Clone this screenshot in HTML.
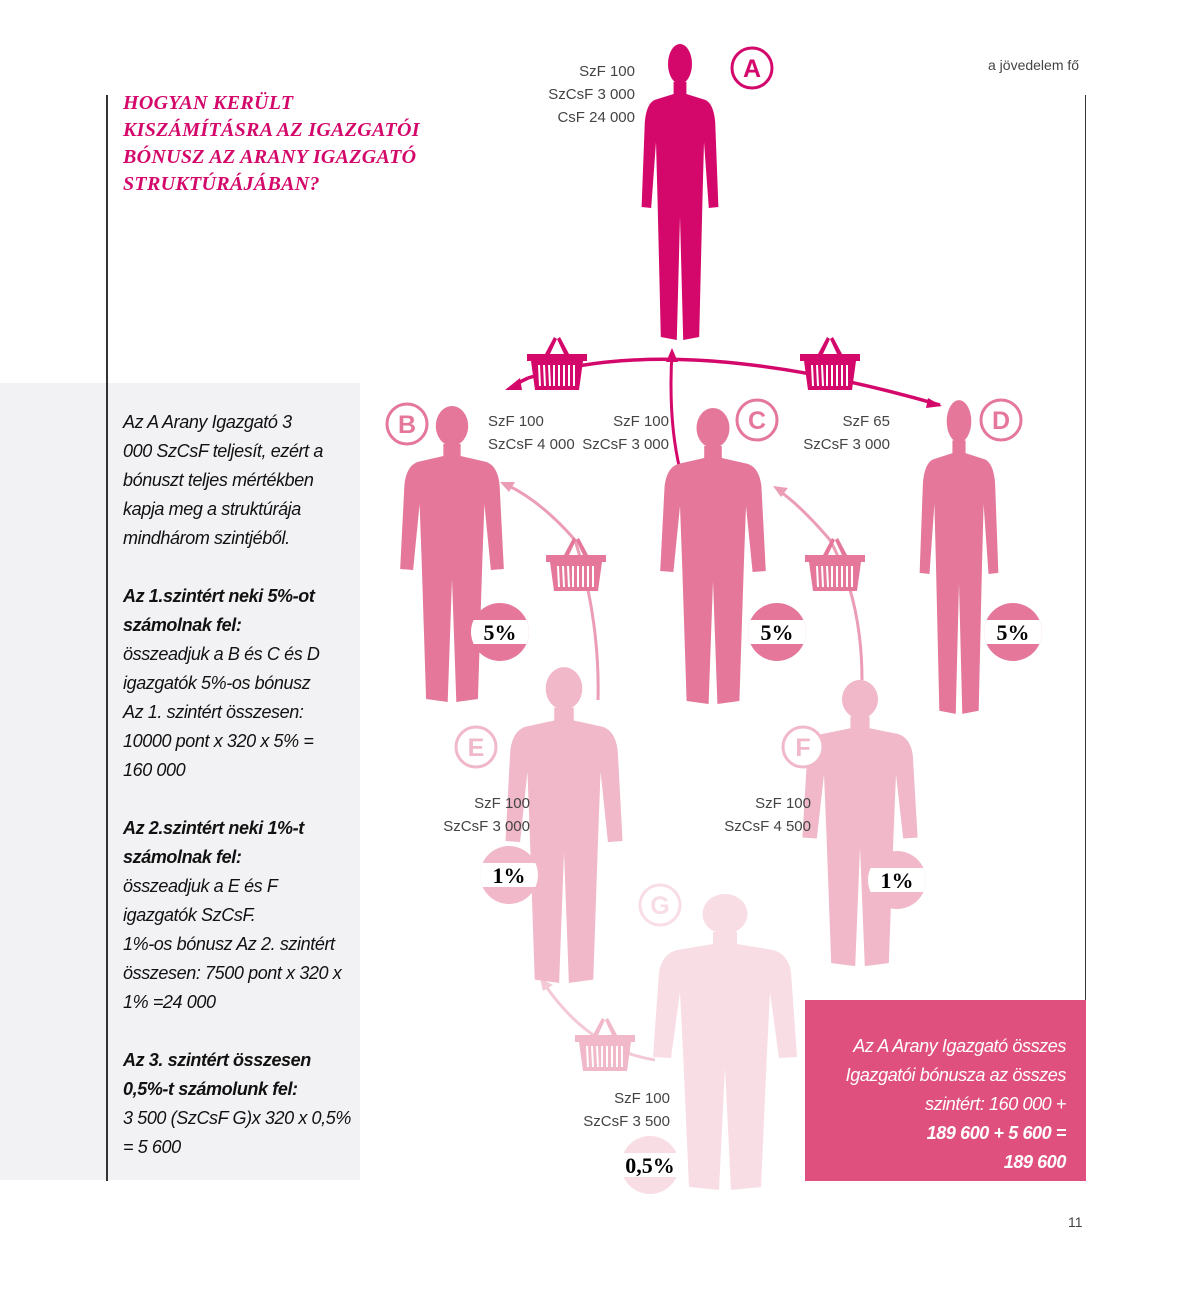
<!DOCTYPE html>
<html><head><meta charset="utf-8"><style>
body{margin:0;width:1181px;height:1299px;background:#fff;position:relative;font-family:"Liberation Sans",sans-serif;overflow:hidden}
.a{position:absolute}
.t{font-size:15px;color:#444;line-height:23px;text-align:right}
.tl{font-size:15px;color:#444;line-height:23px}
.side{font-style:italic;font-size:18px;color:#111;line-height:29px;letter-spacing:-0.4px;white-space:nowrap}
</style></head><body>
<div class="a" style="left:0;top:383px;width:360px;height:797px;background:#f2f2f4"></div>
<div class="a" style="left:106px;top:95px;width:2px;height:1086px;background:#333"></div>
<div class="a" style="left:1085px;top:95px;width:1px;height:1086px;background:#333"></div>
<div class="a" style="left:805px;top:1000px;width:281px;height:181px;background:#e0507f"></div>
<div class="a" style="left:988px;top:57px;font-size:14px;color:#444">a jövedelem fő</div>
<div class="a" style="left:1068px;top:1214px;font-size:14px;color:#444">11</div>
<div class="a" style="left:123px;top:90px;font-family:'Liberation Serif',serif;font-weight:bold;font-style:italic;font-size:20px;line-height:27px;color:#d4086b;letter-spacing:0.3px">HOGYAN KERÜLT<br>KISZÁMÍTÁSRA AZ IGAZGATÓI<br>BÓNUSZ AZ ARANY IGAZGATÓ<br>STRUKTÚRÁJÁBAN?</div>
<div class="a side" style="left:123px;top:408px">Az A Arany Igazgató 3<br>000 SzCsF teljesít, ezért a<br>bónuszt teljes mértékben<br>kapja meg a struktúrája<br>mindhárom szintjéből.<br><br><b>Az 1.szintért neki 5%-ot<br>számolnak fel:</b><br>összeadjuk a B és C és D<br>igazgatók 5%-os bónusz<br>Az 1. szintért összesen:<br>10000 pont x 320 x 5% =<br>160 000<br><br><b>Az 2.szintért neki 1%-t<br>számolnak fel:</b><br>összeadjuk a E és F<br>igazgatók SzCsF.<br>1%-os bónusz Az 2. szintért<br>összesen: 7500 pont x 320 x<br>1% =24 000<br><br><b>Az 3. szintért összesen<br>0,5%-t számolunk fel:</b><br>3 500 (SzCsF G)x 320 x 0,5%<br>= 5 600</div>
<div class="a side" style="left:815px;top:1032px;width:251px;text-align:right;color:#fff">Az A Arany Igazgató összes<br>Igazgatói bónusza az összes<br>szintért: 160 000 +<br><b>189 600 + 5 600 =<br>189 600</b></div>

<svg class="a" style="left:0;top:0" width="1181" height="1299">
<defs>
<symbol id="bk" viewBox="0 0 60 60"><path d="M18,22 L27,5 L30,7 L23,22Z M42,22 L33,5 L30,7 L37,22Z" fill="currentColor"/><rect x="0" y="22" width="60" height="7" fill="currentColor"/><path d="M4,29 H56 L52,58 H8Z" fill="currentColor"/><g stroke="#fff" stroke-width="2"><line x1="12" y1="33" x2="13" y2="54"/><line x1="17" y1="33" x2="18" y2="54"/><line x1="22" y1="33" x2="23" y2="54"/><line x1="27" y1="33" x2="27" y2="54"/><line x1="32" y1="33" x2="32" y2="54"/><line x1="37" y1="33" x2="37" y2="54"/><line x1="42" y1="33" x2="42" y2="54"/><line x1="47" y1="33" x2="47" y2="54"/></g></symbol>
<symbol id="pm" viewBox="0 0 100 300" preserveAspectRatio="none"><ellipse cx="50" cy="22" rx="15" ry="20" fill="currentColor"/><path d="M42,40 H58 V52 L82,58 Q92,62 94,80 L98,165 L86,166 L80,100 L78,160 L74,295 L54,298 L50,175 L46,298 L26,295 L22,160 L20,100 L14,166 L2,165 L6,80 Q8,62 18,58 L42,52Z" fill="currentColor"/></symbol>
<symbol id="pc" viewBox="-30 -30 60 60"><clipPath id="cc"><circle r="29"/></clipPath><g clip-path="url(#cc)"><rect x="-30" y="-30" width="60" height="60" fill="currentColor"/><rect x="-30" y="-12" width="60" height="24" fill="#fff"/></g></symbol>
</defs>
<path d="M528,378 Q680,330 940,405" fill="none" stroke="#d4086b" stroke-width="3.5"/>
<path d="M528,378 L514,385" stroke="#d4086b" stroke-width="3.5"/><path d="M505,390 L520,378 L522,390Z" fill="#d4086b"/>
<path d="M928,398 L942,406 L926,408Z" fill="#d4086b"/>
<path d="M680,470 Q668,420 672,352" fill="none" stroke="#d4086b" stroke-width="3"/><path d="M666,362 L672,348 L678,362Z" fill="#d4086b"/>
<path d="M598,700 Q600,620 575,540 Q540,500 505,484" fill="none" stroke="#eb9db5" stroke-width="3"/><path d="M500,482 L515,482 L509,492Z" fill="#eb9db5"/>
<path d="M862,680 Q862,600 830,540 Q800,505 778,490" fill="none" stroke="#eb9db5" stroke-width="3"/><path d="M773,486 L788,488 L781,497Z" fill="#eb9db5"/>
<path d="M655,1060 Q590,1050 545,985" fill="none" stroke="#f4c9d6" stroke-width="3"/><path d="M540,978 L553,985 L543,991Z" fill="#f4c9d6"/>
<use href="#pm" x="640" y="42" width="80" height="300" style="color:#d4086b"/>
<use href="#pm" x="398" y="404" width="108" height="300" style="color:#e4779a"/>
<use href="#pm" x="658" y="406" width="110" height="300" style="color:#e4779a"/>
<use href="#pm" x="918" y="398" width="82" height="318" style="color:#e4779a"/>
<use href="#pm" x="503" y="665" width="122" height="320" style="color:#f0b8c8"/>
<use href="#pm" x="800" y="678" width="120" height="290" style="color:#f0b8c8"/>
<use href="#pm" x="650" y="892" width="150" height="300" style="color:#f8dde5"/>
<use href="#bk" x="527" y="332" width="60" height="60" style="color:#d4086b"/>
<use href="#bk" x="800" y="332" width="60" height="60" style="color:#d4086b"/>
<use href="#bk" x="546" y="533" width="60" height="60" style="color:#e4779a"/>
<use href="#bk" x="805" y="533" width="60" height="60" style="color:#e4779a"/>
<use href="#bk" x="575" y="1013" width="60" height="60" style="color:#f0b8c8"/>
<g font-family="Liberation Sans" font-weight="bold" font-size="25" text-anchor="middle" fill="none" stroke-width="3">
<circle cx="752" cy="68" r="20" stroke="#d4086b" fill="#fff"/><text x="752" y="77" fill="#d4086b" stroke="none">A</text>
<circle cx="407" cy="424" r="20" stroke="#e4779a" fill="#fff"/><text x="407" y="433" fill="#e4779a" stroke="none">B</text>
<circle cx="757" cy="420" r="20" stroke="#e4779a" fill="#fff"/><text x="757" y="429" fill="#e4779a" stroke="none">C</text>
<circle cx="1001" cy="420" r="20" stroke="#e4779a" fill="#fff"/><text x="1001" y="429" fill="#e4779a" stroke="none">D</text>
<circle cx="476" cy="747" r="20" stroke="#f0b8c8" fill="#fff"/><text x="476" y="756" fill="#f0b8c8" stroke="none">E</text>
<circle cx="803" cy="747" r="20" stroke="#f0b8c8" fill="#fff"/><text x="803" y="756" fill="#f0b8c8" stroke="none">F</text>
<circle cx="660" cy="905" r="20" stroke="#f8dde5" fill="#fff"/><text x="660" y="914" fill="#f8dde5" stroke="none">G</text>
</g>
<g font-family="Liberation Serif" font-weight="bold" font-size="22" text-anchor="middle">
<use href="#pc" x="470" y="602" width="60" height="60" style="color:#e4779a"/><text x="500" y="640">5%</text>
<use href="#pc" x="747" y="602" width="60" height="60" style="color:#e4779a"/><text x="777" y="640">5%</text>
<use href="#pc" x="983" y="602" width="60" height="60" style="color:#e4779a"/><text x="1013" y="640">5%</text>
<use href="#pc" x="479" y="845" width="60" height="60" style="color:#f0b8c8"/><text x="509" y="883">1%</text>
<use href="#pc" x="867" y="850" width="60" height="60" style="color:#f0b8c8"/><text x="897" y="888">1%</text>
<use href="#pc" x="620" y="1135" width="60" height="60" style="color:#f8dde5"/><text x="650" y="1173">0,5%</text>
</g>
</svg>
<div class="a t" style="left:520px;top:60px;width:115px">SzF 100<br>SzCsF 3 000<br>CsF 24 000</div>
<div class="a tl" style="left:488px;top:410px">SzF 100<br>SzCsF 4 000</div>
<div class="a t" style="left:560px;top:410px;width:109px">SzF 100<br>SzCsF 3 000</div>
<div class="a t" style="left:780px;top:410px;width:110px">SzF 65<br>SzCsF 3 000</div>
<div class="a t" style="left:420px;top:792px;width:110px">SzF 100<br>SzCsF 3 000</div>
<div class="a t" style="left:700px;top:792px;width:111px">SzF 100<br>SzCsF 4 500</div>
<div class="a t" style="left:560px;top:1087px;width:110px">SzF 100<br>SzCsF 3 500</div>
</body></html>
